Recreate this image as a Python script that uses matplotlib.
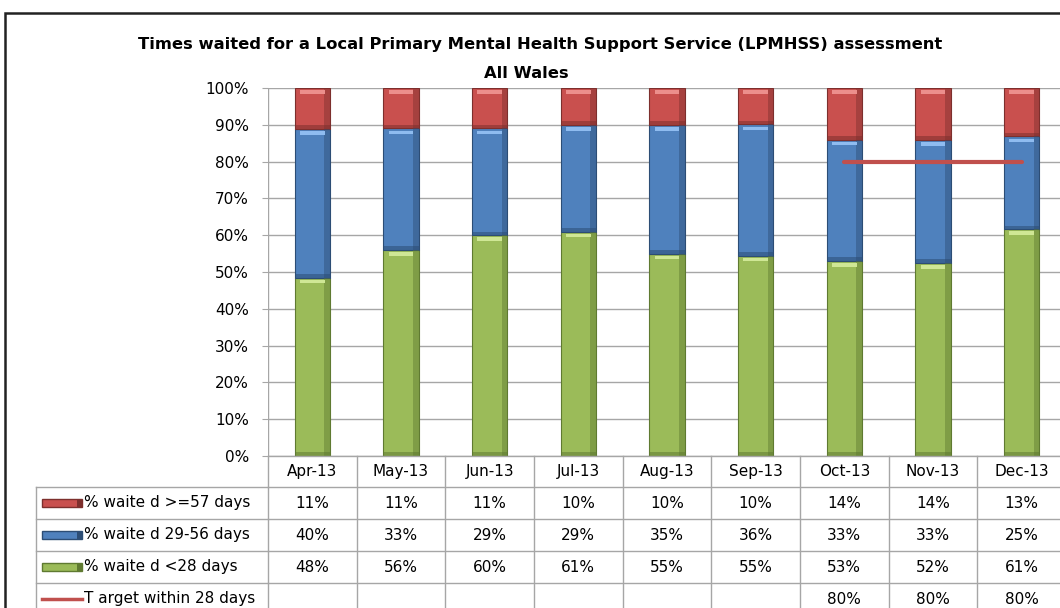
import numpy as np
import matplotlib
matplotlib.use("Agg")
import matplotlib.pyplot as plt
from matplotlib.transforms import blended_transform_factory
from matplotlib.patches import Rectangle
from matplotlib.lines import Line2D

months = ["Apr-13", "May-13", "Jun-13", "Jul-13", "Aug-13", "Sep-13", "Oct-13", "Nov-13", "Dec-13"]
over_57 = [11, 11, 11, 10, 10, 10, 14, 14, 13]
days_29_56 = [40, 33, 29, 29, 35, 36, 33, 33, 25]
under_28 = [48, 56, 60, 61, 55, 55, 53, 52, 61]
target = [None, None, None, None, None, None, 80, 80, 80]

series_names = ["% waite d >=57 days", "% waite d 29-56 days", "% waite d <28 days"]
target_name = "T arget within 28 days"
title_line1 = "Times waited for a Local Primary Mental Health Support Service (LPMHSS) assessment"
title_line2 = "All Wales"

RED, BLUE, GREEN = "#C9504E", "#4F81BD", "#9BBB59"
RED_D, BLUE_D, GREEN_D = "#7d2f2d", "#2c4d75", "#5f7a31"
RED_H, BLUE_H, GREEN_H = "#ec8f8c", "#8fbcf0", "#cfe795"
GRID = "#a6a6a6"
W, H = 1060, 608
FS = 11

fig = plt.figure(figsize=(W / 100, H / 100), dpi=100)
fig.patch.set_facecolor("white")

# plot area in pixel terms
px_left, px_right, px_top, px_bottom = 268, 1066, 88, 456
ax = fig.add_axes([px_left / W, 1 - px_bottom / H, (px_right - px_left) / W, (px_bottom - px_top) / H])
ax.set_xlim(-0.5, len(months) - 0.5)
ax.set_ylim(0, 100)
for s in ax.spines.values():
    s.set_visible(False)
ax.set_xticks([])
ax.set_yticks(np.arange(0, 101, 10))
ax.set_yticklabels([f"{v}%" for v in range(0, 101, 10)], fontsize=FS, family="DejaVu Sans")
ax.tick_params(axis="y", length=4.3, color=GRID, pad=9.4)
ax.yaxis.grid(True, color=GRID, lw=1)
ax.set_axisbelow(True)
ax.axvline(-0.5, color=GRID, lw=1)

# 100% stacked bars
x = np.arange(len(months))
g = np.array(under_28, float)
b = np.array(days_29_56, float)
r = np.array(over_57, float)
tot = g + b + r
g_n, b_n, r_n = g / tot * 100, b / tot * 100, r / tot * 100
bw = 0.4
layers = [(g_n, np.zeros_like(g_n), GREEN, GREEN_D, GREEN_H),
          (b_n, g_n, BLUE, BLUE_D, BLUE_H),
          (r_n, g_n + b_n, RED, RED_D, RED_H)]
for vals, bottoms, fc, dk, hi in layers:
    ax.bar(x, vals, bw, bottom=bottoms, color=fc, edgecolor=dk, linewidth=0.8, zorder=3)
    # bevel: dark right side, dark bottom, light top
    ax.bar(x + bw * 0.42, vals, bw * 0.16, bottom=bottoms, color=dk, alpha=0.45, linewidth=0, zorder=4)
    ax.bar(x, np.minimum(1.0, vals), bw, bottom=bottoms, color=dk, alpha=0.55, linewidth=0, zorder=4)
    ax.bar(x, np.minimum(1.0, vals), bw * 0.7, bottom=bottoms + vals - np.minimum(1.6, vals),
           color=hi, linewidth=0, zorder=5)

tx = [i for i, t in enumerate(target) if t is not None]
ty = [t for t in target if t is not None]
ax.plot(tx, ty, color="#C0504D", lw=3, zorder=6, solid_capstyle="round")

# title
fig.text(540 / W, 1 - 45 / H, title_line1, ha="center", va="center",
         fontsize=11.8, fontweight="bold", family="DejaVu Sans")
fig.text(526 / W, 1 - 73 / H, title_line2, ha="center", va="center",
         fontsize=11.8, fontweight="bold", family="DejaVu Sans")

# data table
trans = blended_transform_factory(ax.transData, fig.transFigure)


def fy(py):
    return 1 - py / H


row_edges = [456, 487, 519, 551, 583, 615]
label_left = 36
tkw = dict(color=GRID, lw=1, clip_on=False)
for k in range(len(months) + 1):
    xx = k - 0.5
    fig.add_artist(Line2D([xx, xx], [fy(456), fy(615)], transform=trans, **tkw))
for i, py in enumerate(row_edges):
    fig.add_artist(Line2D([-0.5, len(months) - 0.5], [fy(py), fy(py)], transform=trans, **tkw))
    if i > 0:
        fig.add_artist(Line2D([label_left / W, px_left / W], [fy(py), fy(py)],
                              transform=fig.transFigure, **tkw))
fig.add_artist(Line2D([label_left / W, label_left / W], [fy(487), fy(615)],
                      transform=fig.transFigure, **tkw))

for i, m in enumerate(months):
    fig.text(i, fy((456 + 487) / 2), m, transform=trans, ha="center", va="center", fontsize=FS)
rows = [over_57, days_29_56, under_28, target]
for ri, row in enumerate(rows):
    yc = fy((row_edges[ri + 1] + row_edges[ri + 2]) / 2)
    for i, v in enumerate(row):
        if v is not None:
            fig.text(i, yc, f"{v}%", transform=trans, ha="center", va="center", fontsize=FS)

# legend keys in the table
keys = [(RED, RED_D), (BLUE, BLUE_D), (GREEN, GREEN_D)]
for ri, ((fc, dk), name) in enumerate(zip(keys, series_names)):
    yc = (row_edges[ri + 1] + row_edges[ri + 2]) / 2
    fig.add_artist(Rectangle((42 / W, fy(yc + 4)), 40 / W, 8 / H, transform=fig.transFigure,
                             facecolor=fc, edgecolor=dk, lw=1))
    fig.add_artist(Rectangle((77 / W, fy(yc + 4)), 5 / W, 8 / H, transform=fig.transFigure,
                             facecolor=dk, edgecolor="none"))
    fig.text(84 / W, fy(yc), name, ha="left", va="center", fontsize=FS)
yc = (row_edges[4] + row_edges[5]) / 2
fig.add_artist(Line2D([42 / W, 82 / W], [fy(yc), fy(yc)], color="#C0504D", lw=2.5,
                      transform=fig.transFigure))
fig.text(84 / W, fy(yc), target_name, ha="left", va="center", fontsize=FS)

# chart border
fig.add_artist(Rectangle((5 / W, -0.1), 1.2, fy(13) + 0.1, transform=fig.transFigure,
                         facecolor="none", edgecolor="#222222", lw=1.8))

fig.savefig("out.png", dpi=100)
